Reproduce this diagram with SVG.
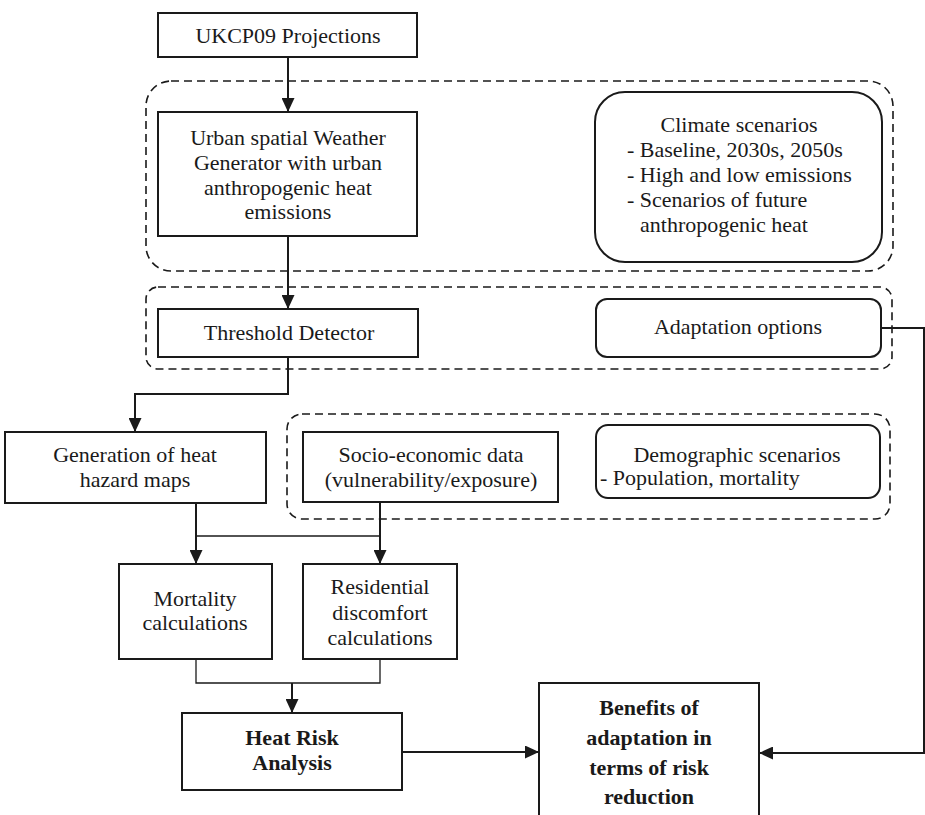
<svg xmlns="http://www.w3.org/2000/svg" width="925" height="815" viewBox="0 0 925 815">
<defs>
<style>
.box{fill:#fff;stroke:#1a1a1a;stroke-width:2}
.dash{fill:none;stroke:#1a1a1a;stroke-width:1.6;stroke-dasharray:8 5}
.t{font-family:"Liberation Serif","Times New Roman",serif;font-size:22px;fill:#1a1a1a;text-anchor:middle}
.tl{font-family:"Liberation Serif","Times New Roman",serif;font-size:22px;fill:#1a1a1a}
.b{font-weight:bold}
.c{fill:none;stroke:#1a1a1a;stroke-width:2}
.cth{fill:none;stroke:#1a1a1a;stroke-width:1.3}
</style>
<marker id="arr" markerUnits="userSpaceOnUse" viewBox="0 0 14 13" markerWidth="14" markerHeight="13" refX="14" refY="6.5" orient="auto">
<path d="M0,0 L14,6.5 L0,13 z" fill="#1a1a1a"/>
</marker>
</defs>
<rect width="925" height="815" fill="#fff"/>

<g id="groups">
<rect class="dash" x="146" y="81" width="747" height="190" rx="25"/>
<rect class="dash" x="146" y="287" width="746" height="82" rx="12"/>
<rect class="dash" x="287" y="414" width="603" height="105" rx="15"/>
</g>

<g id="connectors">
<line class="c" x1="288" y1="57" x2="288" y2="112" marker-end="url(#arr)"/>
<line class="c" x1="288" y1="236" x2="288" y2="309" marker-end="url(#arr)"/>
<polyline class="c" points="288,357 288,394 135,394 135,432" marker-end="url(#arr)"/>
<line class="c" x1="196" y1="503" x2="196" y2="564" marker-end="url(#arr)"/>
<line class="c" x1="380" y1="502" x2="380" y2="564" marker-end="url(#arr)"/>
<line class="cth" x1="196" y1="536" x2="380" y2="536"/>
<polyline class="cth" points="196,659 196,683 380,683 380,659"/>
<line class="c" x1="292" y1="683" x2="292" y2="713" marker-end="url(#arr)"/>
<line class="c" x1="402" y1="752" x2="539" y2="752" marker-end="url(#arr)"/>
<polyline class="c" points="881,328 924,328 924,753 759,753" marker-end="url(#arr)"/>
</g>

<g id="ukcp09">
<rect class="box" x="158" y="13" width="259" height="44"/>
<text class="t" x="288" y="43">UKCP09 Projections</text>
</g>

<g id="weather-generator">
<rect class="box" x="158" y="112" width="259" height="124"/>
<text class="t" x="288" y="145">Urban spatial Weather</text>
<text class="t" x="288" y="170">Generator with urban</text>
<text class="t" x="288" y="195">anthropogenic heat</text>
<text class="t" x="288" y="219">emissions</text>
</g>

<g id="climate-scenarios">
<rect class="box" x="595" y="92" width="287" height="170" rx="30"/>
<text class="t" x="739" y="132">Climate scenarios</text>
<text class="tl" x="627" y="157">- Baseline, 2030s, 2050s</text>
<text class="tl" x="627" y="182">- High and low emissions</text>
<text class="tl" x="627" y="207">- Scenarios of future</text>
<text class="tl" x="640" y="232">anthropogenic heat</text>
</g>

<g id="threshold-detector">
<rect class="box" x="158" y="309" width="260" height="48"/>
<text class="t" x="289" y="340">Threshold Detector</text>
</g>

<g id="adaptation-options">
<rect class="box" x="596" y="299" width="285" height="58" rx="11"/>
<text class="t" x="738" y="334">Adaptation options</text>
</g>

<g id="hazard-maps">
<rect class="box" x="5" y="432" width="261" height="71"/>
<text class="t" x="135" y="462">Generation of heat</text>
<text class="t" x="135" y="487">hazard maps</text>
</g>

<g id="socio-economic">
<rect class="box" x="303" y="432" width="255" height="70"/>
<text class="t" x="431" y="462">Socio-economic data</text>
<text class="t" x="431" y="487">(vulnerability/exposure)</text>
</g>

<g id="demographic">
<rect class="box" x="596" y="425" width="284" height="73" rx="12"/>
<text class="t" x="737" y="462">Demographic scenarios</text>
<text class="tl" x="600" y="485">- Population, mortality</text>
</g>

<g id="mortality">
<rect class="box" x="119" y="564" width="153" height="95"/>
<text class="t" x="195" y="606">Mortality</text>
<text class="t" x="195" y="630">calculations</text>
</g>

<g id="residential">
<rect class="box" x="303" y="564" width="154" height="95"/>
<text class="t" x="380" y="594">Residential</text>
<text class="t" x="380" y="620">discomfort</text>
<text class="t" x="380" y="645">calculations</text>
</g>

<g id="heat-risk">
<rect class="box" x="182" y="713" width="220" height="77"/>
<text class="t b" x="292" y="745">Heat Risk</text>
<text class="t b" x="292" y="770">Analysis</text>
</g>

<g id="benefits">
<rect class="box" x="539" y="683" width="220" height="150"/>
<text class="t b" x="649" y="715">Benefits of</text>
<text class="t b" x="649" y="745">adaptation in</text>
<text class="t b" x="649" y="775">terms of risk</text>
<text class="t b" x="649" y="804">reduction</text>
</g>
</svg>
